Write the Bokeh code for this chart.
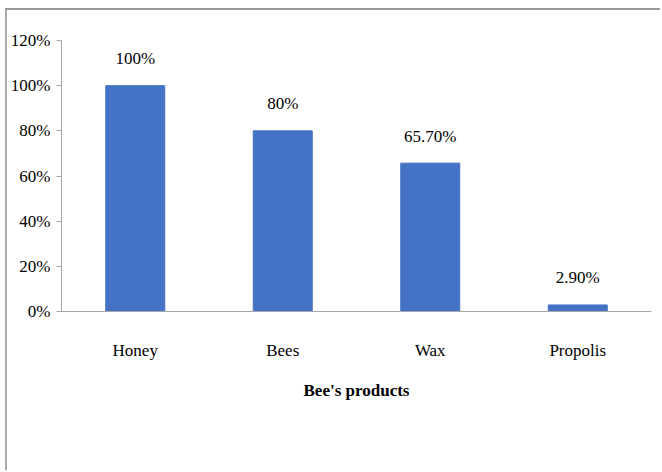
from bokeh.plotting import figure
from bokeh.models import ColumnDataSource, FactorRange, Range1d, NumeralTickFormatter, FixedTicker
from bokeh.core.properties import value
from bokeh.embed import file_html
from bokeh.resources import INLINE

products = ["Honey", "Bees", "Wax", "Propolis"]
shares = [1.00, 0.80, 0.657, 0.029]
share_labels = ["100%", "80%", "65.70%", "2.90%"]
y_ticks = [0, 0.2, 0.4, 0.6, 0.8, 1.0, 1.2]

FONT = "Liberation Serif"

source = ColumnDataSource(dict(x=products, top=shares, label=share_labels))

p = figure(
    width=655, height=462,
    x_range=FactorRange(*products, range_padding=0),
    y_range=Range1d(0, 1.2),
    output_backend="svg", toolbar_location=None,
    min_border_left=53, min_border_right=11,
    min_border_top=30, min_border_bottom=161,
)
p.margin = (8, 0, 0, 5)
p.styles = {"border-top": "2px solid #9a9a9a", "border-left": "2px solid #a8a8a8"}

p.vbar(x="x", top="top", width=0.4, source=source, color="#4472C4")
p.text(x="x", y="top", text="label", source=source,
       text_align="center", text_baseline="alphabetic", y_offset=-27,
       text_font=value(FONT), text_font_size="17px", text_color="#000000")

p.outline_line_color = None
p.xgrid.grid_line_color = None
p.ygrid.grid_line_color = None

p.yaxis.ticker = FixedTicker(ticks=y_ticks)
p.yaxis.formatter = NumeralTickFormatter(format="0%")
p.yaxis.axis_line_color = "#a6a6a6"
p.yaxis.major_tick_line_color = "#a6a6a6"
p.yaxis.major_tick_out = 5
p.yaxis.major_tick_in = 0
p.yaxis.minor_tick_line_color = None
p.yaxis.major_label_standoff = 6
p.yaxis.major_label_text_font = FONT
p.yaxis.major_label_text_font_size = "17px"
p.yaxis.major_label_text_color = "#000000"

p.xaxis.axis_line_color = "#a6a6a6"
p.xaxis.major_tick_line_color = None
p.xaxis.minor_tick_line_color = None
p.xaxis.major_label_standoff = 23
p.xaxis.major_label_text_font = FONT
p.xaxis.major_label_text_font_size = "17px"
p.xaxis.major_label_text_color = "#000000"
p.xaxis.axis_label = "Bee's products"
p.xaxis.axis_label_text_font = FONT
p.xaxis.axis_label_text_font_size = "17px"
p.xaxis.axis_label_text_font_style = "bold"
p.xaxis.axis_label_text_color = "#000000"
p.xaxis.axis_label_standoff = 18

open("out.html", "w").write(file_html(p, INLINE))
